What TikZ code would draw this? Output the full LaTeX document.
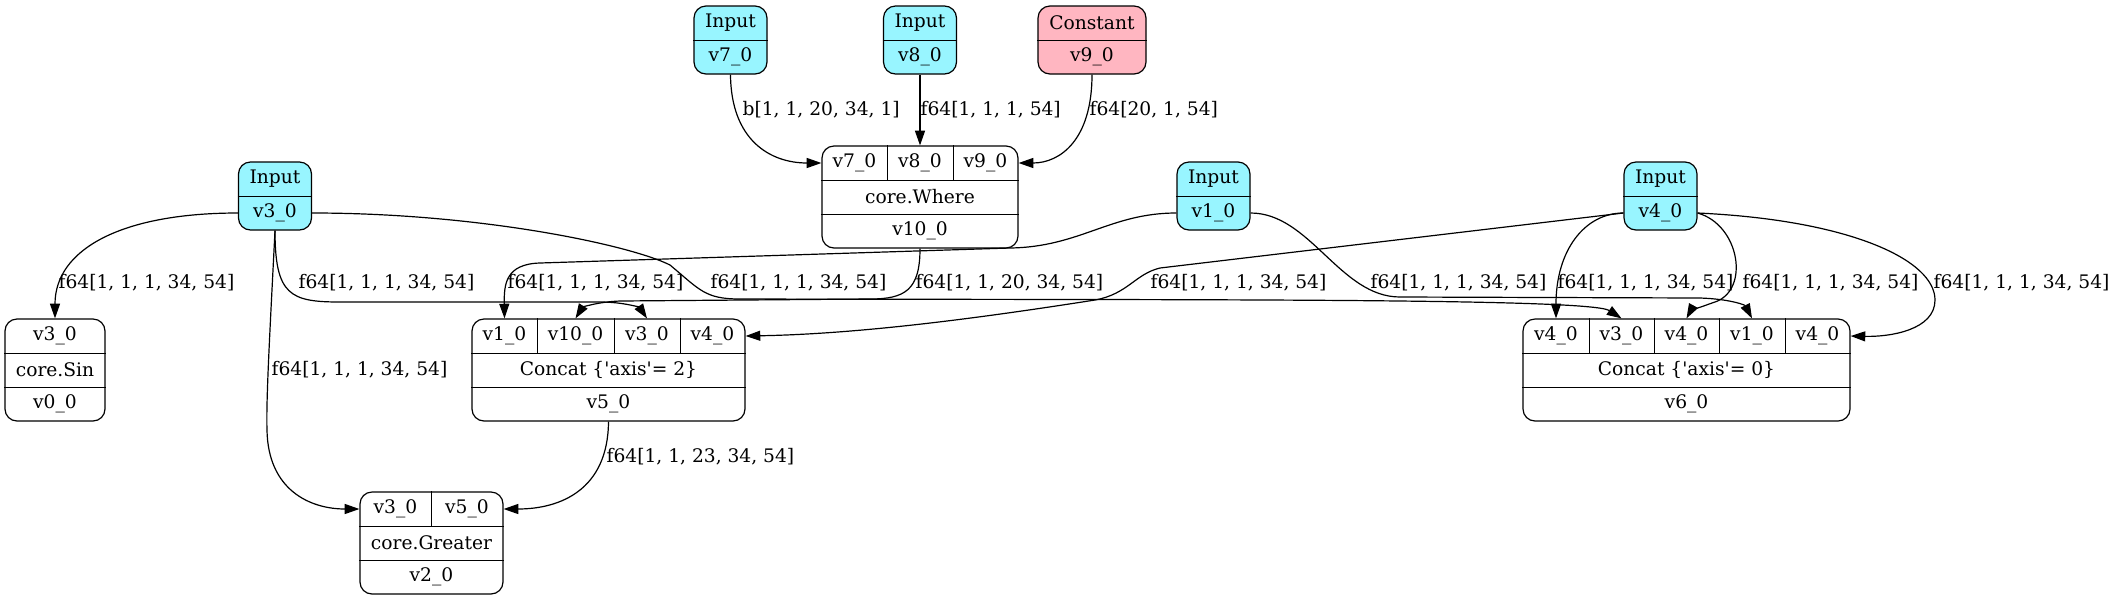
\documentclass[tikz,border=0pt]{standalone}
\usepackage{fontspec}
\setmainfont{DejaVu Serif}
\usetikzlibrary{arrows.meta}
\definecolor{inputcol}{HTML}{98F5FF}
\definecolor{constcol}{HTML}{FFB6C1}
\newcommand{\pxu}{0.75pt}
\begin{document}
\begin{tikzpicture}[x=0.75pt,y=-0.75pt,line width=0.9pt,
	every node/.style={font=\fontsize{14}{16}\selectfont},
	frame/.style={draw,rounded corners=9pt,inner sep=0,minimum height=102*\pxu},
	inframe/.style={frame,fill=inputcol,minimum width=73*\pxu,minimum height=68*\pxu},
	cell/.style={inner sep=0,minimum height=34*\pxu},
	incell/.style={cell,minimum width=73*\pxu},
	lbl/.style={anchor=west,inner sep=0},
	flow/.style={-{Triangle[length=11pt,width=7.5pt]}}]
	\useasboundingbox (0,0) rectangle (2117,601);

	% inputs
	\node[inframe] (in7) at (730.5,40) {};
	\node[incell] (in7t) at (730.5,23) {Input};
	\node[incell] (in7v) at (730.5,57) {v7\_0};
	\node[inframe] (in8) at (920,40) {};
	\node[incell] (in8t) at (920,23) {Input};
	\node[incell] (in8v) at (920,57) {v8\_0};
	\node[inframe,fill=constcol,minimum width=108*\pxu] (in9) at (1092,40) {};
	\node[cell,minimum width=108*\pxu] (in9t) at (1092,23) {Constant};
	\node[cell,minimum width=108*\pxu] (in9v) at (1092,57) {v9\_0};
	\node[inframe] (in3) at (275,196) {};
	\node[incell] (in3t) at (275,179) {Input};
	\node[incell] (in3v) at (275,213) {v3\_0};
	\node[inframe] (in1) at (1213.5,196) {};
	\node[incell] (in1t) at (1213.5,179) {Input};
	\node[incell] (in1v) at (1213.5,213) {v1\_0};
	\node[inframe] (in4) at (1660.5,196) {};
	\node[incell] (in4t) at (1660.5,179) {Input};
	\node[incell] (in4v) at (1660.5,213) {v4\_0};
	\foreach \n in {in7,in8,in9,in3,in1,in4}
		\draw (\n.west |- \n t.south) -- (\n.east |- \n t.south);

	% where
	\node[frame,minimum width=196*\pxu] (where) at (920,197) {};
	\node[cell,minimum width=65*\pxu] (wa) at (854.5,163) {v7\_0};
	\node[cell,minimum width=66*\pxu] (wb) at (920,163) {v8\_0};
	\node[cell,minimum width=65*\pxu] (wc) at (985.5,163) {v9\_0};
	\node[cell] (wop) at (920,197) {core.Where};
	\node[cell] (wout) at (920,231) {v10\_0};
	\draw (wa.north east) -- (wa.south east);
	\draw (wb.north east) -- (wb.south east);
	\draw (where.west |- wa.south) -- (where.east |- wa.south);
	\draw (where.west |- wop.south) -- (where.east |- wop.south);

	% sin
	\node[frame,minimum width=100*\pxu] (sin) at (55,370) {};
	\node[cell] (sina) at (55,336) {v3\_0};
	\node[cell] (sinop) at (55,370) {core.Sin};
	\node[cell] (sinout) at (55,404) {v0\_0};
	\draw (sin.west |- sina.south) -- (sin.east |- sina.south);
	\draw (sin.west |- sinop.south) -- (sin.east |- sinop.south);

	% concat axis 2
	\node[frame,minimum width=273*\pxu] (c2) at (608.5,370) {};
	\node[cell,minimum width=65*\pxu] (c2a) at (504.5,336) {v1\_0};
	\node[cell,minimum width=77*\pxu] (c2b) at (575.5,336) {v10\_0};
	\node[cell,minimum width=66*\pxu] (c2c) at (647,336) {v3\_0};
	\node[cell,minimum width=65*\pxu] (c2d) at (712.5,336) {v4\_0};
	\node[cell] (c2op) at (608.5,370) {Concat \{\textquotesingle axis\textquotesingle= 2\}};
	\node[cell] (c2out) at (608.5,404) {v5\_0};
	\foreach \c in {c2a,c2b,c2c}
		\draw (\c.north east) -- (\c.south east);
	\draw (c2.west |- c2a.south) -- (c2.east |- c2a.south);
	\draw (c2.west |- c2op.south) -- (c2.east |- c2op.south);

	% concat axis 0
	\node[frame,minimum width=327*\pxu] (c0) at (1686.5,370) {};
	\node[cell,minimum width=66*\pxu] (c0a) at (1556,336) {v4\_0};
	\node[cell,minimum width=65*\pxu] (c0b) at (1621.5,336) {v3\_0};
	\node[cell,minimum width=65*\pxu] (c0c) at (1686.5,336) {v4\_0};
	\node[cell,minimum width=66*\pxu] (c0d) at (1752,336) {v1\_0};
	\node[cell,minimum width=65*\pxu] (c0e) at (1817.5,336) {v4\_0};
	\node[cell] (c0op) at (1686.5,370) {Concat \{\textquotesingle axis\textquotesingle= 0\}};
	\node[cell] (c0out) at (1686.5,404) {v6\_0};
	\foreach \c in {c0a,c0b,c0c,c0d}
		\draw (\c.north east) -- (\c.south east);
	\draw (c0.west |- c0a.south) -- (c0.east |- c0a.south);
	\draw (c0.west |- c0op.south) -- (c0.east |- c0op.south);

	% greater
	\node[frame,minimum width=143*\pxu] (gr) at (431.5,543) {};
	\node[cell,minimum width=71*\pxu] (gra) at (395.5,509) {v3\_0};
	\node[cell,minimum width=72*\pxu] (grb) at (467,509) {v5\_0};
	\node[cell] (grop) at (431.5,543) {core.Greater};
	\node[cell] (grout) at (431.5,577) {v2\_0};
	\draw (gra.north east) -- (gra.south east);
	\draw (gr.west |- gra.south) -- (gr.east |- gra.south);
	\draw (gr.west |- grop.south) -- (gr.east |- grop.south);

	% connectors
	\draw[flow] (in7.south) .. controls (731,140) and (770,163) .. (wa.west);
	\draw[flow] (in8.south) -- (wb.north);
	\draw[flow] (in9.south) .. controls (1092,140) and (1060,163) .. (wc.east);
	\draw[flow] (in3v.west) .. controls (120,213) and (55,250) .. (sina.north);
	\draw[flow] (in3.south) .. controls (275,295) and (290,302) .. (340,302) -- (600,302) .. controls (625,302) and (640,308) .. (c2c.north);
	\draw[flow] (in3.south) .. controls (270,330) and (266,400) .. (267,430) .. controls (268,490) and (310,509) .. (gra.west);
	\draw[flow] (in3v.east) .. controls (480,213) and (630,245) .. (670,265) .. controls (700,290) and (705,299) .. (740,299) .. controls (1200,300) and (1590,298) .. (c0b.north);
	\draw[flow] (in1v.west) .. controls (1110,213) and (1080,247) .. (1010,248) -- (540,263) .. controls (505,264) and (504,285) .. (c2a.north);
	\draw[flow] (where.south) .. controls (920,290) and (905,299) .. (870,299) -- (620,301) .. controls (595,302) and (582,308) .. (c2b.north);
	\draw[flow] (in4v.west) -- (1160,268) .. controls (1135,274) and (1128,294) .. (1095,300) .. controls (980,318) and (860,334) .. (c2d.east);
	\draw[flow] (in1v.east) .. controls (1310,213) and (1340,297) .. (1400,297) -- (1700,298) .. controls (1730,299) and (1745,305) .. (c0d.north);
	\draw[flow] (in4v.west) .. controls (1585,213) and (1556,250) .. (c0a.north);
	\draw[flow] (in4v.east) .. controls (1740,225) and (1750,290) .. (1715,302) .. controls (1700,307) and (1690,312) .. (c0c.north);
	\draw[flow] (in4v.east) .. controls (1850,220) and (1935,260) .. (1935,300) .. controls (1935,330) and (1890,337) .. (c0e.east);
	\draw[flow] (c2.south) .. controls (608,490) and (560,509) .. (grb.east);

	% labels
	\node[lbl] (l7) at (742,110) {b[1, 1, 20, 34, 1]};
	\node[lbl] (l8) at (920,110) {f64[1, 1, 1, 54]};
	\node[lbl] (l9) at (1089,110) {f64[20, 1, 54]};
	\node[lbl] (lsin) at (58,283) {f64[1, 1, 1, 34, 54]};
	\node[lbl] (l3c2) at (298,283) {f64[1, 1, 1, 34, 54]};
	\node[lbl] (l3gr) at (271,370) {f64[1, 1, 1, 34, 54]};
	\node[lbl] (l1c2) at (507,283) {f64[1, 1, 1, 34, 54]};
	\node[lbl] (l3c0) at (710,283) {f64[1, 1, 1, 34, 54]};
	\node[lbl] (l10) at (915,283) {f64[1, 1, 20, 34, 54]};
	\node[lbl] (l4c2) at (1150,283) {f64[1, 1, 1, 34, 54]};
	\node[lbl] (l1c0) at (1370,283) {f64[1, 1, 1, 34, 54]};
	\node[lbl] (l4a) at (1557,283) {f64[1, 1, 1, 34, 54]};
	\node[lbl] (l4c) at (1742,283) {f64[1, 1, 1, 34, 54]};
	\node[lbl] (l4e) at (1933,283) {f64[1, 1, 1, 34, 54]};
	\node[lbl] (l5) at (606,457) {f64[1, 1, 23, 34, 54]};
\end{tikzpicture}
\end{document}
